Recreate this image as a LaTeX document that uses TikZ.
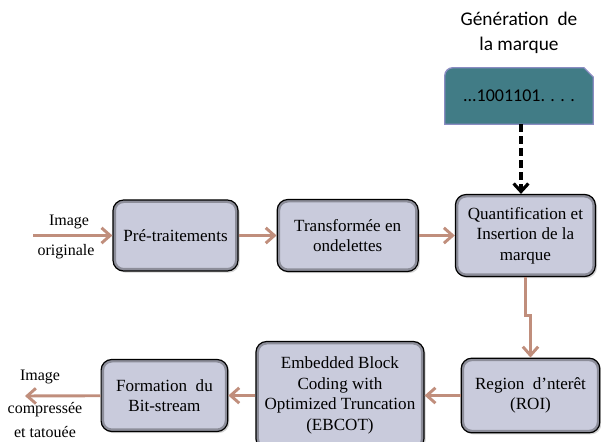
\documentclass[tikz,border=0pt]{standalone}
\usepackage{fontspec}
\setmainfont{Liberation Serif}
\newfontfamily\calibri{Carlito}
\usepackage{xcolor}
\usepackage{tikz}
\usetikzlibrary{positioning,arrows.meta,shadows,backgrounds}
\definecolor{boxfill}{HTML}{C9CBDC}
\definecolor{flechecol}{HTML}{C08E7C}
\definecolor{tealfill}{HTML}{417C86}
\definecolor{tealedge}{HTML}{8A8CC2}

\begin{document}
\begin{tikzpicture}[x=0.75pt,y=-0.75pt,
	bloc/.style={draw=black,line width=0.9pt,fill=boxfill,rounded corners=8pt,align=center,
		font=\fontsize{12.8}{15.5}\selectfont,inner sep=2pt,
		drop shadow={opacity=0.35,shadow xshift=1.2pt,shadow yshift=-1.2pt},
		path picture={\draw[black,opacity=0.3,line width=4.5pt,rounded corners=8pt]
			(path picture bounding box.south west) rectangle (path picture bounding box.north east);}},
	fleche/.style={draw=flechecol,line width=2.2pt,-{Straight Barb[length=6.5pt,width=11.5pt]}},
	lbl/.style={font=\fontsize{12}{14}\selectfont,inner sep=0pt}]
		\useasboundingbox (0,0) rectangle (601,442);

		\node[bloc,minimum width=93.75pt,minimum height=53.25pt] (pre) at (175.5,235.5) {Pré-traitements};
		\node[bloc,minimum width=105.75pt,minimum height=54pt] (transf) [right=28.5pt of pre] {Transformée en\\ondelettes};
		\node[bloc,minimum width=105pt,minimum height=61.5pt] (quant) [right=27pt of transf] {Quantification et\\Insertion de la\\marque};
		\node[bloc,minimum width=104pt,minimum height=56pt] (roi) at (530.5,395.5) {Region~ d’nterêt\\(ROI)};
		\node[bloc,minimum width=126pt,minimum height=81pt] (ebcot) [left=27pt of roi] {Embedded Block\\Coding with\\Optimized Truncation\\(EBCOT)};
		\node[bloc,minimum width=95pt,minimum height=54pt] (form) [left=20.25pt of ebcot] {Formation~ du\\Bit-stream};

		% marque
		\node[minimum width=111pt,minimum height=42pt,font=\calibri\fontsize{13.5}{16}\selectfont] (gen) at (519,96) {...1001101. . . .};
		\begin{scope}[on background layer]
			\draw[fill=tealfill,draw=tealedge,line width=1pt]
				(gen.south west) -- ([yshift=-6pt]gen.north west) arc (180:90:6pt)
				-- ([xshift=-7pt]gen.north east) -- ([yshift=-7pt]gen.north east) -- (gen.south east) -- cycle;
		\end{scope}
		\node[align=center,font=\calibri\fontsize{14.5}{18.5}\selectfont] (titre) at (519,33) {Génération~ de\\la marque};

		\coordinate (in) at (33,235.5);
		\coordinate (out) at (25,396);
		\node[lbl] (img1) at (69,222) {Image};
		\node[lbl] (orig) at (66,252) {originale};
		\node[lbl] (img2) at (40,377) {Image};
		\node[lbl] (comp) at (45,410) {compressée};
		\node[lbl] (tat) at (45,432) {et tatouée};

		\draw[black,line width=2.4pt,dash pattern=on 6pt off 3pt,-{Straight Barb[length=6pt,width=11pt]}]
			(gen.south -| 521,0) -- (quant.north -| 521,0);
		\draw[fleche] (in) -- (pre);
		\draw[fleche] (pre) -- (transf);
		\draw[fleche] (transf) -- (quant);
		\draw[fleche] (quant.south) -- ++(0,38) -| (roi.north);
		\draw[fleche] (roi) -- (ebcot);
		\draw[fleche] (ebcot) -- (form);
		\draw[fleche] (form) -- (out);
\end{tikzpicture}
\end{document}
